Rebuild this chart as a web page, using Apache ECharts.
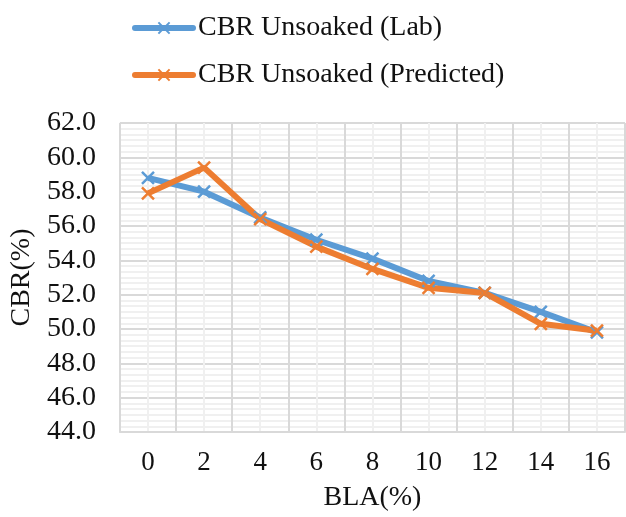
<!DOCTYPE html>
<html>
<head>
<meta charset="utf-8">
<script src="https://cdn.jsdelivr.net/npm/echarts@6/dist/echarts.min.js"></script>
<style>
  html, body { margin: 0; padding: 0; background: #fff; }
  #chart { width: 626px; height: 517px; }
</style>
</head>
<body>
<div id="chart"></div>
<script>
// BLA content (%) on the x axis
const categories = ['0', '2', '4', '6', '8', '10', '12', '14', '16'];
// Unsoaked CBR (%) measured in the laboratory
const cbrLab = [58.8, 58.0, 56.5, 55.2, 54.1, 52.8, 52.1, 51.0, 49.8];
// Unsoaked CBR (%) from the prediction model
const cbrPredicted = [57.9, 59.4, 56.4, 54.8, 53.5, 52.4, 52.1, 50.3, 49.9];
// Y axis range and step
const yMin = 44, yMax = 62, yStep = 2;

const FONT = '"Liberation Serif", "Times New Roman", serif';
const crossMark = 'path://M0,0L10,10M10,0L0,10';

function lineSeries(name, data, color) {
  return {
    name: name,
    type: 'line',
    xAxisIndex: 0,
    data: data,
    symbol: crossMark,
    symbolSize: 12,
    lineStyle: { color: color, width: 6 },
    itemStyle: { color: color, borderColor: color, borderWidth: 2.5 },
    z: 5
  };
}

const chart = echarts.init(document.getElementById('chart'), null, { renderer: 'canvas' });
chart.setOption({
  animation: false,
  backgroundColor: '#ffffff',
  textStyle: { fontFamily: FONT },
  legend: {
    orient: 'vertical',
    left: 127,
    top: 9,
    itemWidth: 58,
    itemHeight: 14,
    itemGap: 19,
    lineStyle: { width: 6, cap: 'round' },
    textStyle: { fontFamily: FONT, fontSize: 28, color: '#111' },
    data: ['CBR Unsoaked (Lab)', 'CBR Unsoaked (Predicted)']
  },
  grid: { left: 119, top: 123, right: 1, bottom: 85 },
  xAxis: [
    {
      type: 'category',
      data: categories,
      boundaryGap: true,
      name: 'BLA(%)',
      nameLocation: 'middle',
      nameGap: 52,
      nameTextStyle: { fontFamily: FONT, fontSize: 28, color: '#111' },
      axisLine: { show: true, lineStyle: { color: '#d9d9d9', width: 2 } },
      axisTick: { show: false },
      axisLabel: { fontFamily: FONT, fontSize: 27, color: '#111', margin: 17 },
      splitLine: { show: true, interval: 0, lineStyle: { color: '#d9d9d9', width: 2 } },
      z: 3
    },
    {
      // light lines at every half category (category centres)
      type: 'value',
      min: -1,
      max: 17,
      interval: 1,
      position: 'bottom',
      axisLine: { show: false },
      axisTick: { show: false },
      axisLabel: { show: false },
      splitLine: { show: true, lineStyle: { color: '#f0f0f0', width: 2 } },
      z: 1
    }
  ],
  yAxis: {
    type: 'value',
    min: yMin,
    max: yMax,
    interval: yStep,
    name: 'CBR(%)',
    nameLocation: 'middle',
    nameGap: 78,
    nameTextStyle: { fontFamily: FONT, fontSize: 28, color: '#111' },
    axisLine: { show: true, lineStyle: { color: '#d9d9d9', width: 2 } },
    axisTick: { show: false },
    axisLabel: {
      fontFamily: FONT, fontSize: 28, color: '#111', margin: 24,
      formatter: v => v.toFixed(1)
    },
    splitLine: { show: true, lineStyle: { color: '#d9d9d9', width: 2 } },
    minorTick: { show: false, splitNumber: 6 },
    minorSplitLine: { show: true, lineStyle: { color: '#f0f0f0', width: 2 } }
  },
  series: [
    lineSeries('CBR Unsoaked (Lab)', cbrLab, '#5b9bd5'),
    lineSeries('CBR Unsoaked (Predicted)', cbrPredicted, '#ed7d31')
  ]
});
</script>
</body>
</html>
